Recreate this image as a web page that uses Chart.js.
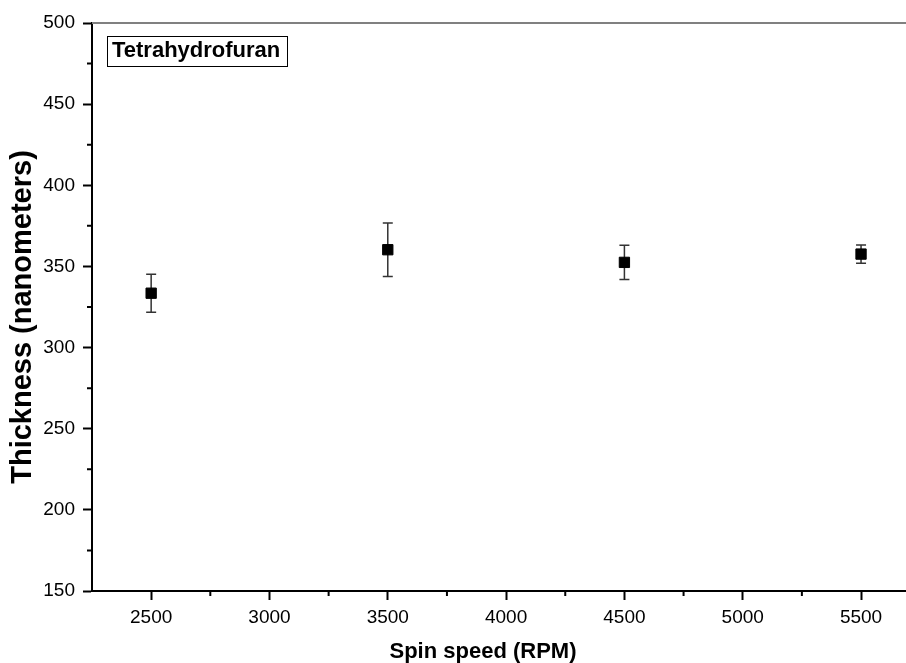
<!DOCTYPE html>
<html>
<head>
<meta charset="utf-8">
<script src="https://cdn.jsdelivr.net/npm/chart.js@4/dist/chart.umd.min.js"></script>
<style>
  body { margin: 0; background: #fff; }
  #wrap { width: 906px; height: 663px; }
</style>
</head>
<body>
<div id="wrap"><canvas id="thkChart" width="906" height="663"></canvas></div>
<script>
// spin speed vs film thickness (THF)
const rpm = [2500, 3500, 4500, 5500];
const thickness = [333.5, 360.3, 352.5, 357.6];
const thicknessErr = [11.7, 16.5, 10.6, 5.6];
const xTicks = [2500, 3000, 3500, 4000, 4500, 5000, 5500];
const yTicks = [150, 200, 250, 300, 350, 400, 450, 500];
const xTitle = "Spin speed (RPM)";
const yTitle = "Thickness (nanometers)";
const labelText = "Tetrahydrofuran";

var points = [];
for (var i = 0; i < rpm.length; i++) {
  points.push({ x: rpm[i], y: thickness[i] });
}

var tickFont = { family: "Liberation Sans, Arial, sans-serif", size: 19 };

// error bars, minor ticks, frame line, titles and the label box
var extras = {
  id: "extras",
  beforeDatasetsDraw: function (chart) {
    var ctx = chart.ctx;
    var xs = chart.scales.x;
    var ys = chart.scales.y;
    ctx.save();
    ctx.strokeStyle = "#333";
    ctx.lineWidth = 1.5;
    for (var i = 0; i < rpm.length; i++) {
      var px = xs.getPixelForValue(rpm[i]);
      var top = ys.getPixelForValue(thickness[i] + thicknessErr[i]);
      var bot = ys.getPixelForValue(thickness[i] - thicknessErr[i]);
      ctx.beginPath();
      ctx.moveTo(px, top);
      ctx.lineTo(px, bot);
      ctx.moveTo(px - 5, top);
      ctx.lineTo(px + 5, top);
      ctx.moveTo(px - 5, bot);
      ctx.lineTo(px + 5, bot);
      ctx.stroke();
    }
    ctx.restore();
  },
  afterDraw: function (chart) {
    var ctx = chart.ctx;
    var area = chart.chartArea;
    var xs = chart.scales.x;
    var ys = chart.scales.y;
    ctx.save();

    // gray top frame
    ctx.strokeStyle = "#808080";
    ctx.lineWidth = 2;
    ctx.beginPath();
    ctx.moveTo(area.left, area.top);
    ctx.lineTo(area.right, area.top);
    ctx.stroke();

    // minor ticks
    ctx.strokeStyle = "#000";
    ctx.lineWidth = 2;
    ctx.beginPath();
    for (var i = 0; i < xTicks.length; i++) {
      var v = xTicks[i] + 250;
      if (v < xs.max) {
        var px = xs.getPixelForValue(v);
        ctx.moveTo(px, area.bottom);
        ctx.lineTo(px, area.bottom + 5);
      }
    }
    for (var j = 0; j < yTicks.length - 1; j++) {
      var py = ys.getPixelForValue(yTicks[j] + 25);
      ctx.moveTo(area.left, py);
      ctx.lineTo(area.left - 5, py);
    }
    ctx.stroke();

    // axis titles
    ctx.fillStyle = "#000";
    ctx.font = "bold 22px Liberation Sans, Arial, sans-serif";
    ctx.textAlign = "center";
    ctx.textBaseline = "middle";
    ctx.fillText(xTitle, 483, 652);

    ctx.save();
    ctx.translate(23, 317);
    ctx.rotate(-Math.PI / 2);
    ctx.font = "bold 29px Liberation Sans, Arial, sans-serif";
    ctx.fillText(yTitle, 0, 0);
    ctx.restore();

    // label box
    ctx.font = "bold 22px Liberation Sans, Arial, sans-serif";
    ctx.textAlign = "left";
    ctx.fillText(labelText, 112, 51);
    ctx.lineWidth = 1;
    ctx.strokeRect(107.5, 36.5, 180, 30);

    ctx.restore();
  },
};

const ctx = document.getElementById("thkChart");

new Chart(ctx, {
  type: "scatter",
  data: {
    datasets: [
      {
        label: labelText,
        data: points,
        pointStyle: "rect",
        pointRadius: 7.3,
        pointHoverRadius: 7.3,
        backgroundColor: "#000",
        borderColor: "#000",
        borderWidth: 1,
      },
    ],
  },
  options: {
    responsive: false,
    animation: false,
    layout: {
      autoPadding: false,
      padding: { top: 23, left: 0, right: 0, bottom: 0 },
    },
    scales: {
      x: {
        type: "linear",
        min: 2250,
        max: 5690,
        afterBuildTicks: function (scale) {
          scale.ticks = xTicks.map(function (v) {
            return { value: v };
          });
        },
        afterFit: function (scale) {
          scale.height = 72;
          scale.paddingLeft = 0;
          scale.paddingRight = 0;
        },
        grid: {
          drawOnChartArea: false,
          tickLength: 9,
          tickWidth: 2,
          tickColor: "#000",
        },
        border: { color: "#000", width: 2 },
        ticks: {
          color: "#000",
          font: tickFont,
          padding: 6,
          maxRotation: 0,
          autoSkip: false,
          callback: function (value) {
            return String(value);
          },
        },
      },
      y: {
        min: 150,
        max: 500,
        afterBuildTicks: function (scale) {
          scale.ticks = yTicks.map(function (v) {
            return { value: v };
          });
        },
        afterFit: function (scale) {
          scale.width = 92;
        },
        grid: {
          drawOnChartArea: false,
          tickLength: 9,
          tickWidth: 2,
          tickColor: "#000",
        },
        border: { color: "#000", width: 2 },
        ticks: {
          color: "#000",
          font: tickFont,
          padding: 8,
          autoSkip: false,
          callback: function (value) {
            return String(value);
          },
        },
      },
    },
    plugins: {
      legend: { display: false },
      tooltip: { enabled: false },
    },
  },
  plugins: [extras],
});
</script>
</body>
</html>
